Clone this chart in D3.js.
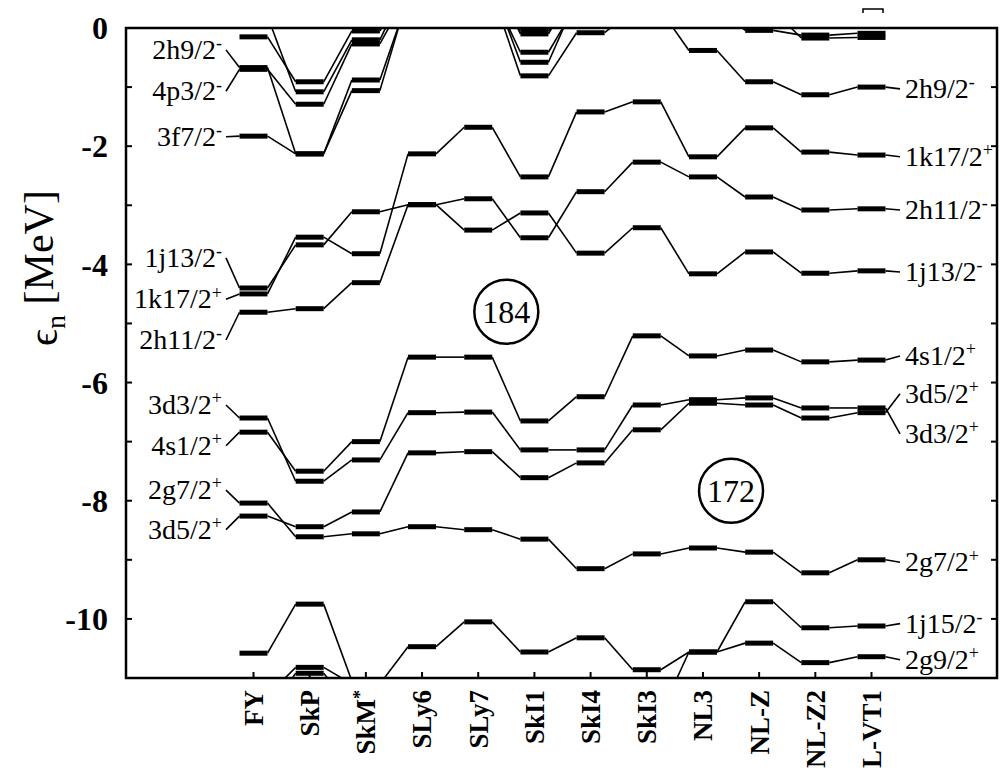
<!DOCTYPE html>
<html>
<head>
<meta charset="utf-8">
<script src="https://cdn.jsdelivr.net/npm/d3@7"></script>
<style>
  body { margin: 0; background: #fff; }
  svg text { font-family: "Liberation Serif", "DejaVu Serif", serif; fill: #000; }
</style>
</head>
<body>
<svg width="1000" height="772"></svg>
<script>
// parametrizations (columns)
const models = ['FY', 'SkP', 'SkM*', 'SLy6', 'SLy7', 'SkI1', 'SkI4', 'SkI3', 'NL3', 'NL-Z', 'NL-Z2', 'L-VT1'];
const yTicks = [0, -2, -4, -6, -8, -10];

// neutron single-particle energies [MeV], one value per model
const n4p1  = [0.2, -1.08, -0.2, 0.8, 0.9, -0.1, 0.7, 0.9, 0.8, 0.6, 0.5, 0.5];
const n3f5  = [-0.15, -0.91, -0.05, 0.7, 0.8, -0.05, 0.6, 0.8, 0.7, 0.5, 0.4, 0.4];
const n4p3  = [-0.70, -1.29, -0.27, 0.6, 0.7, -0.58, 0.5, 0.7, 0.6, 0.3, -0.17, -0.16];
const n2h9  = [-0.67, -2.13, -1.06, 0.55, 0.6, -0.81, -0.08, 0.3, -0.38, -0.91, -1.13, -1.00];
const n3f7  = [-1.83, -2.13, -0.88, 0.5, 0.6, -0.41, 0.4, 0.6, 0.4, -0.04, -0.12, -0.09];
const n1k17 = [-4.50, -3.54, -3.82, -2.13, -1.68, -2.52, -1.42, -1.25, -2.18, -1.69, -2.10, -2.15];
const n1j13 = [-4.40, -3.67, -3.11, -2.99, -3.42, -3.13, -3.81, -3.38, -4.16, -3.79, -4.15, -4.11];
const n2h11 = [-4.81, -4.75, -4.31, -2.99, -2.89, -3.55, -2.77, -2.27, -2.52, -2.86, -3.08, -3.06];
const n4s1  = [-6.84, -7.50, -7.00, -5.57, -5.57, -6.65, -6.24, -5.21, -5.55, -5.45, -5.65, -5.62];
const n3d3  = [-6.60, -7.67, -7.31, -6.51, -6.50, -7.14, -7.14, -6.38, -6.29, -6.26, -6.43, -6.43];
const n3d5  = [-8.26, -8.44, -8.19, -7.19, -7.17, -7.61, -7.36, -6.80, -6.35, -6.38, -6.60, -6.51];
const n2g7  = [-8.04, -8.61, -8.56, -8.44, -8.49, -8.65, -9.15, -8.90, -8.80, -8.87, -9.22, -9.00];
const n1j15 = [-10.58, -9.75, -11.05, -11.5, -11.3, -11.8, -11.5, -11.6, -10.56, -9.71, -10.15, -10.12];
const n2g9  = [-11.3, -10.82, -11.1, -10.47, -10.05, -10.56, -10.32, -10.86, -10.56, -10.41, -10.74, -10.64];
const n1i11 = [-11.6, -10.92, -11.5, -11.6, -11.5, -11.8, -11.6, -11.9, -11.8, -11.5, -11.8, -11.7];

const levels = [n4p1, n3f5, n4p3, n2h9, n3f7, n1k17, n1j13, n2h11, n4s1, n3d3, n3d5, n2g7, n1j15, n2g9, n1i11];

// level names: [label, parity, level, energy where the text sits]
const leftLabels = [
  ['2h9/2', '-', n2h9, -0.37],
  ['4p3/2', '-', n4p3, -1.07],
  ['3f7/2', '-', n3f7, -1.84],
  ['1j13/2', '-', n1j13, -3.89],
  ['1k17/2', '+', n1k17, -4.59],
  ['2h11/2', '-', n2h11, -5.28],
  ['3d3/2', '+', n3d3, -6.38],
  ['4s1/2', '+', n4s1, -7.07],
  ['2g7/2', '+', n2g7, -7.82],
  ['3d5/2', '+', n3d5, -8.49]
];
const rightLabels = [
  ['2h9/2', '-', n2h9, -1.03],
  ['1k17/2', '+', n1k17, -2.18],
  ['2h11/2', '-', n2h11, -3.08],
  ['1j13/2', '-', n1j13, -4.13],
  ['4s1/2', '+', n4s1, -5.55],
  ['3d5/2', '+', n3d5, -6.19],
  ['3d3/2', '+', n3d3, -6.87],
  ['2g7/2', '+', n2g7, -9.04],
  ['1j15/2', '-', n1j15, -10.08],
  ['2g9/2', '+', n2g9, -10.69]
];
// shell gaps
const gaps = [['184', 'SLy7', 'SkI1', -4.8], ['172', 'NL3', 'NL-Z', -7.83]];

const svg = d3.select('svg');
const mLeft = 126, mRight = 997, mTop = 28, mBottom = 678;
const x = d3.scalePoint().domain(models).range([253.5, 871.5]);
const y = d3.scaleLinear().domain([0, -11]).range([mTop, mBottom]);
const half = 14;

svg.append('clipPath').attr('id', 'clip')
  .append('rect').attr('x', mLeft).attr('y', mTop).attr('width', mRight - mLeft).attr('height', mBottom - mTop);

const plot = svg.append('g').attr('clip-path', 'url(#clip)');

levels.forEach(lv => {
  const pts = lv.map((e, i) => ({ m: models[i], e }));
  plot.append('g').selectAll('line').data(pts).join('line')
    .attr('x1', d => x(d.m) - half).attr('x2', d => x(d.m) + half)
    .attr('y1', d => y(d.e)).attr('y2', d => y(d.e))
    .attr('stroke', '#000').attr('stroke-width', 5);
  plot.append('g').selectAll('line').data(d3.pairs(pts)).join('line')
    .attr('x1', d => x(d[0].m) + half).attr('y1', d => y(d[0].e))
    .attr('x2', d => x(d[1].m) - half).attr('y2', d => y(d[1].e))
    .attr('stroke', '#000').attr('stroke-width', 1.6);
});

// frame + ticks
svg.append('rect').attr('x', mLeft).attr('y', mTop).attr('width', mRight - mLeft).attr('height', mBottom - mTop)
  .attr('fill', 'none').attr('stroke', '#000').attr('stroke-width', 2.5);

const minor = d3.range(0, -11.01, -1);
svg.append('g').selectAll('line').data(minor).join('line')
  .attr('x1', mLeft).attr('x2', mLeft + 6).attr('y1', d => y(d)).attr('y2', d => y(d))
  .attr('stroke', '#000').attr('stroke-width', 2);
svg.append('g').selectAll('line').data(minor).join('line')
  .attr('x1', mRight - 6).attr('x2', mRight).attr('y1', d => y(d)).attr('y2', d => y(d))
  .attr('stroke', '#000').attr('stroke-width', 2);
svg.append('g').selectAll('line').data(models).join('line')
  .attr('x1', d => x(d)).attr('x2', d => x(d)).attr('y1', mBottom).attr('y2', mBottom - 6)
  .attr('stroke', '#000').attr('stroke-width', 2);

svg.append('g').selectAll('text').data(yTicks).join('text')
  .attr('x', 108).attr('y', d => y(d)).attr('dy', '0.35em')
  .attr('text-anchor', 'end').attr('font-size', 32).attr('font-weight', 'bold')
  .text(d => d === 0 ? '0' : '-' + Math.abs(d));

// x labels, rotated
svg.append('g').selectAll('text').data(models).join('text')
  .attr('transform', d => `translate(${x(d)},690) rotate(-90)`)
  .attr('dy', '0.35em').attr('text-anchor', 'end')
  .attr('font-size', 27).attr('font-weight', 'bold')
  .each(function (d) {
    const t = d3.select(this);
    if (d === 'SkM*') {
      t.append('tspan').text('SkM');
      t.append('tspan').attr('dy', '-0.5em').attr('font-size', 18).text('*');
    } else t.text(d);
  });

// y title
const yt = svg.append('text').attr('transform', 'translate(57,268) rotate(-90)')
  .attr('text-anchor', 'middle').attr('font-size', 42);
yt.append('tspan').text('\u03f5');
yt.append('tspan').attr('dy', '0.3em').attr('font-size', 28).text('n');
yt.append('tspan').attr('dy', '-0.3em').text(' [MeV]');

function levelText(g, d, xp, anchor) {
  const t = g.append('text').attr('x', xp).attr('y', y(d[3])).attr('dy', '0.33em')
    .attr('text-anchor', anchor).attr('font-size', 28);
  t.append('tspan').text(d[0]);
  t.append('tspan').attr('dy', '-0.55em').attr('font-size', 18).text(d[1]);
}

const lg = svg.append('g');
leftLabels.forEach(d => {
  lg.append('line').attr('x1', 226).attr('y1', y(d[3]))
    .attr('x2', x(models[0]) - half).attr('y2', y(d[2][0]))
    .attr('stroke', '#000').attr('stroke-width', 1.6);
  levelText(lg, d, 222, 'end');
});
const rg = svg.append('g');
const last = models.length - 1;
rightLabels.forEach(d => {
  rg.append('line').attr('x1', x(models[last]) + half).attr('y1', y(d[2][last]))
    .attr('x2', 900).attr('y2', y(d[3]))
    .attr('stroke', '#000').attr('stroke-width', 1.6);
  levelText(rg, d, 905, 'start');
});

// circled magic numbers
gaps.forEach(d => {
  const cx = (x(d[1]) + x(d[2])) / 2, cy = y(d[3]);
  svg.append('circle').attr('cx', cx).attr('cy', cy).attr('r', 32)
    .attr('fill', 'none').attr('stroke', '#000').attr('stroke-width', 2.5);
  svg.append('text').attr('x', cx).attr('y', cy).attr('dy', '0.35em')
    .attr('text-anchor', 'middle').attr('font-size', 32).text(d[0]);
});

// small mark above the frame
svg.append('path').attr('d', 'M863,13V9H883V13').attr('fill', 'none').attr('stroke', '#000').attr('stroke-width', 1.5);
</script>
</body>
</html>
